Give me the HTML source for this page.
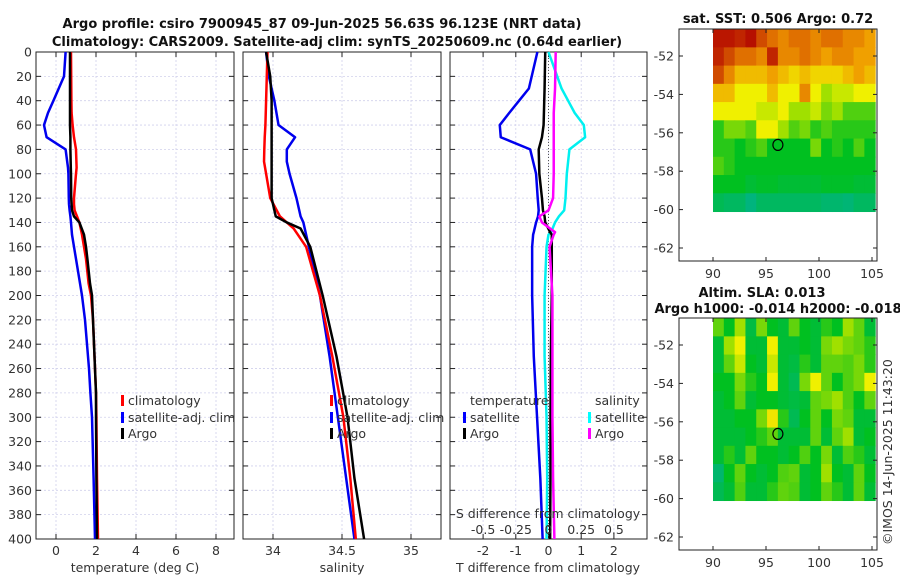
<!DOCTYPE html>
<html><head><meta charset="utf-8">
<style>
body{margin:0;background:#fff;}
svg{display:block;font-family:"DejaVu Sans","Liberation Sans",sans-serif;}
.t{font-size:12.5px;fill:#333;}
.b{font-weight:bold;fill:#111;font-size:13px;}
</style></head><body>
<svg id="fig" width="900" height="580" viewBox="0 0 900 580" xmlns="http://www.w3.org/2000/svg">
<text class="b" x="322" y="28" text-anchor="middle">Argo profile: csiro 7900945_87 09-Jun-2025 56.63S 96.123E (NRT data)</text>
<text class="b" x="337" y="46" text-anchor="middle">Climatology: CARS2009. Satellite-adj clim: synTS_20250609.nc (0.64d earlier)</text>
<text class="b" x="778" y="23" text-anchor="middle">sat. SST: 0.506 Argo: 0.72</text>
<text class="b" x="762" y="297" text-anchor="middle">Altim. SLA: 0.013</text>
<text class="b" x="778" y="313" text-anchor="middle">Argo h1000: -0.014 h2000: -0.018</text>
<text class="t" transform="translate(892,545) rotate(-90)">©IMOS 14-Jun-2025 11:43:20</text>
<g id="g"></g>
</svg>
<script>
// ---- data ----
const tDepth=[0,20,40,50,60,70,80,95,100,120,125,130,135,140,150,160,170,190,200,220,260,280,300,350,400];
const tClim=[0.75,0.76,0.77,0.78,0.83,0.9,1.0,1.03,1.0,0.9,0.9,0.93,1.05,1.17,1.3,1.4,1.5,1.63,1.75,1.85,1.95,2.0,2.02,2.05,2.1];
const tSat=[0.48,0.4,-0.13,-0.4,-0.6,-0.47,0.48,0.6,0.62,0.64,0.65,0.68,0.72,0.75,0.8,0.9,1.0,1.2,1.3,1.45,1.65,1.72,1.8,1.88,1.95];
const tArgo=[0.7,0.7,0.7,0.7,0.7,0.72,0.72,0.74,0.75,0.76,0.78,0.8,0.9,1.17,1.4,1.5,1.57,1.7,1.8,1.85,1.95,2.0,2.0,2.02,2.05];
const sDepth=[0,20,40,60,70,80,90,100,120,135,140,145,160,200,250,300,350,400];
const sClim=[33.96,33.955,33.95,33.945,33.94,33.937,33.935,33.95,33.98,34.05,34.1,34.15,34.24,34.34,34.43,34.51,34.56,34.6];
const sSat=[33.95,33.97,34.01,34.04,34.16,34.1,34.1,34.12,34.17,34.2,34.22,34.23,34.26,34.34,34.41,34.47,34.53,34.59];
const sArgo=[33.95,33.98,33.99,33.99,33.99,33.99,33.99,33.99,33.99,34.02,34.1,34.2,34.27,34.36,34.46,34.54,34.59,34.66];
const dDepth=[0,30,40,50,60,70,80,100,120,130,135,140,148,150,160,200,250,300,350,400];
const dTSat=[-0.34,-0.6,-0.9,-1.2,-1.49,-1.46,-0.56,-0.38,-0.33,-0.3,-0.32,-0.38,-0.45,-0.47,-0.5,-0.5,-0.45,-0.35,-0.25,-0.18];
const dTArgo=[-0.1,-0.12,-0.13,-0.14,-0.15,-0.2,-0.3,-0.28,-0.2,-0.17,-0.12,-0.1,0.05,0.1,0.1,0.1,0.07,0.06,0.06,0.05];
const dSSat=[0,0.1,0.15,0.2,0.27,0.28,0.16,0.14,0.13,0.12,0.08,0.05,0.02,0.0,-0.015,-0.03,-0.03,-0.015,-0.01,-0.015];
const dSArgo=[0.055,0.05,0.045,0.04,0.04,0.04,0.04,0.04,0.035,0.0,-0.07,-0.05,0.05,0.04,0.008,0.03,0.03,0.03,0.035,0.045];
const tTicks=[0,2,4,6,8], sTicks=[34,34.5,35], dTicks=[-2,-1,0,1,2], dSTicks=[-0.5,-0.25,0,0.25,0.5];
const depthTicks=[0,20,40,60,80,100,120,140,160,180,200,220,240,260,280,300,320,340,360,380,400];
const lonTicks=[90,95,100,105], latTicks=[-52,-54,-56,-58,-60,-62];
const sstGrid=[
[0.97,0.97,0.95,0.98,0.9,0.85,0.8,0.85,0.85,0.8,0.85,0.85,0.8,0.8,0.75],
[0.95,0.9,0.85,0.85,0.8,0.95,0.8,0.8,0.85,0.8,0.75,0.8,0.8,0.75,0.75],
[0.9,0.8,0.7,0.7,0.7,0.75,0.7,0.65,0.7,0.65,0.65,0.65,0.7,0.75,0.7],
[0.7,0.7,0.6,0.6,0.6,0.7,0.6,0.6,0.8,0.6,0.5,0.55,0.55,0.6,0.6],
[0.6,0.6,0.6,0.6,0.55,0.55,0.6,0.5,0.5,0.55,0.45,0.5,0.4,0.4,0.4],
[0.35,0.45,0.45,0.4,0.6,0.6,0.5,0.4,0.45,0.35,0.4,0.35,0.35,0.35,0.35],
[0.35,0.35,0.3,0.35,0.4,0.3,0.3,0.3,0.3,0.45,0.3,0.35,0.3,0.4,0.3],
[0.4,0.35,0.3,0.3,0.3,0.3,0.3,0.3,0.3,0.3,0.3,0.3,0.3,0.3,0.3],
[0.3,0.3,0.3,0.25,0.28,0.28,0.25,0.25,0.25,0.25,0.28,0.28,0.28,0.25,0.25],
[0.18,0.15,0.15,0.08,0.15,0.15,0.15,0.15,0.15,0.15,0.12,0.12,0.1,0.15,0.15]];
const slaGrid=[
[0.42,0.3,0.5,0.22,0.45,0.3,0.25,0.42,0.3,0.25,0.35,0.3,0.5,0.42,0.25],
[0.25,0.5,0.6,0.25,0.25,0.6,0.25,0.25,0.3,0.25,0.45,0.5,0.45,0.42,0.35],
[0.25,0.42,0.55,0.3,0.25,0.55,0.25,0.22,0.35,0.25,0.42,0.42,0.4,0.45,0.35],
[0.3,0.3,0.45,0.35,0.3,0.6,0.25,0.18,0.45,0.6,0.42,0.3,0.4,0.45,0.6],
[0.25,0.3,0.42,0.25,0.3,0.3,0.25,0.22,0.25,0.42,0.45,0.5,0.4,0.3,0.42],
[0.25,0.25,0.3,0.3,0.45,0.62,0.35,0.18,0.3,0.42,0.3,0.45,0.42,0.25,0.25],
[0.25,0.25,0.25,0.3,0.35,0.42,0.25,0.25,0.25,0.42,0.25,0.42,0.5,0.25,0.3],
[0.25,0.35,0.25,0.42,0.3,0.3,0.25,0.3,0.4,0.3,0.45,0.25,0.4,0.35,0.25],
[0.12,0.3,0.42,0.3,0.25,0.3,0.4,0.42,0.25,0.3,0.5,0.3,0.25,0.42,0.3],
[0.18,0.25,0.4,0.25,0.25,0.35,0.42,0.4,0.25,0.3,0.42,0.35,0.25,0.42,0.25]];
const floatLon=96.123, floatLat=-56.63;

// ---- drawing ----
const NS='http://www.w3.org/2000/svg', G=document.getElementById('g');
function mk(tag,attrs,parent){const e=document.createElementNS(NS,tag);for(const k in attrs)e.setAttribute(k,attrs[k]);(parent||G).appendChild(e);return e;}
const Y0=52,Y1=539;
const yD=d=>Y0+d/400*(Y1-Y0);
function lin(d0,d1,r0,r1){return v=>r0+(v-d0)/(d1-d0)*(r1-r0);}
const xT=lin(0,2,56,96), xS=lin(34,34.5,273,342), xD=lin(0,1,548.5,581.2), xDS=v=>xD(v*4);
const GRID='#d0d0ec';

function panel(x0,x1,name,xs,ticks,fmt,labelY){
  const g=mk('g',{});
  
  
  ticks.forEach(t=>{mk('line',{x1:xs(t),x2:xs(t),y1:Y0,y2:Y1,stroke:GRID,'stroke-width':0.8,'stroke-dasharray':'2,2'},g);
    mk('line',{x1:xs(t),x2:xs(t),y1:Y1,y2:Y1-5,stroke:'#222'},g);mk('line',{x1:xs(t),x2:xs(t),y1:Y0,y2:Y0+5,stroke:'#222'},g);
    const tx=mk('text',{x:xs(t),y:Y1+16,'text-anchor':'middle',class:'t'},g);tx.textContent=fmt(t);
    
    });
  depthTicks.forEach(d=>{mk('line',{x1:x0,x2:x1,y1:yD(d),y2:yD(d),stroke:GRID,'stroke-width':0.8,'stroke-dasharray':'2,2'},g);
    mk('line',{x1:x0,x2:x0+5,y1:yD(d),y2:yD(d),stroke:'#222'},g);mk('line',{x1:x1-5,x2:x1,y1:yD(d),y2:yD(d),stroke:'#222'},g);
    if(labelY){const tx=mk('text',{x:x0-4,y:yD(d)+4.5,'text-anchor':'end',class:'t'},g);tx.textContent=d;
      
      }});
  mk('rect',{x:x0,y:Y0,width:x1-x0,height:Y1-Y0,fill:'none',stroke:'#222','stroke-width':1},g);
  return g;
}
function series(xs,vals,depths,color,w,name){
  const p=mk('polyline',{points:vals.map((v,i)=>xs(v)+','+yD(depths[i])).join(' '),fill:'none',stroke:color,'stroke-width':w,'stroke-linejoin':'round'});
  
  
}
function txt(x,y,s,name,extra){const t=mk('text',Object.assign({x:x,y:y,class:'t'},extra||{}));t.textContent=s;
  
  return t;}
function legBar(x,y,c,name){const r=mk('rect',{x:x,y:y-10,width:3,height:11,fill:c});
  
  }

// panel 1
panel(36,234,'temperature-panel',xT,tTicks,t=>t,true);
series(xT,tSat,tDepth,'#0000ee',2.5,'temp-satellite-line');
series(xT,tClim,tDepth,'#ff0000',2.5,'temp-climatology-line');
series(xT,tArgo,tDepth,'#000',2.5,'temp-argo-line');
txt(135,572,'temperature (deg C)','x-axis-title-temperature',{'text-anchor':'middle'});
legBar(121,405,'#f00','legend-climatology-swatch');txt(128,405,'climatology','legend-climatology');
legBar(121,422,'#00f','legend-satellite-swatch');txt(128,422,'satellite-adj. clim','legend-satellite');
legBar(121,438,'#000','legend-argo-swatch');txt(128,438,'Argo','legend-argo');
// panel 2
panel(243,441,'salinity-panel',xS,sTicks,t=>t,false);
series(xS,sSat,sDepth,'#0000ee',2.5,'sal-satellite-line');
series(xS,sClim,sDepth,'#ff0000',2.5,'sal-climatology-line');
series(xS,sArgo,sDepth,'#000',2.5,'sal-argo-line');
txt(342,572,'salinity','x-axis-title-salinity',{'text-anchor':'middle'});
legBar(330,405,'#f00','legend2-climatology-swatch');txt(337,405,'climatology','legend2-climatology');
legBar(330,422,'#00f','legend2-satellite-swatch');txt(337,422,'satellite-adj. clim','legend2-satellite');
legBar(330,438,'#000','legend2-argo-swatch');txt(337,438,'Argo','legend2-argo');
// panel 3
panel(450,647,'difference-panel',xD,dTicks,t=>t,false);
mk('line',{x1:xD(0),x2:xD(0),y1:Y0,y2:Y1,stroke:'#555','stroke-width':1,'stroke-dasharray':'1,2'});
series(xD,dTSat,dDepth,'#0000ee',2.5,'tdiff-satellite-line');
series(xDS,dSSat,dDepth,'#00f0f0',2.5,'sdiff-satellite-line');
series(xD,dTArgo,dDepth,'#000',2.5,'tdiff-argo-line');
series(xDS,dSArgo,dDepth,'#ff00ff',2.5,'sdiff-argo-line');
txt(548,572,'T difference from climatology','x-axis-title-tdiff',{'text-anchor':'middle'});
txt(548,518,'S difference from climatology','s-axis-title',{'text-anchor':'middle'});
dSTicks.forEach(v=>txt(xDS(v),534,v,'s-tick-label',{'text-anchor':'middle'}));
txt(470,405,'temperature','legend3-temperature-heading');
legBar(463,422,'#00f','legend3-tsat-swatch');txt(470,422,'satellite','legend3-tsat');
legBar(463,438,'#000','legend3-targo-swatch');txt(470,438,'Argo','legend3-targo');
txt(595,405,'salinity','legend3-salinity-heading');
legBar(588,422,'#0ff','legend3-ssat-swatch');txt(595,422,'satellite','legend3-ssat');
legBar(588,438,'#f0f','legend3-sargo-swatch');txt(595,438,'Argo','legend3-sargo');

// maps
const stops=[[0,[0,176,160]],[0.3,[0,192,32]],[0.5,[160,224,0]],[0.6,[240,240,0]],[0.75,[240,160,0]],[0.85,[224,112,0]],[1,[176,0,0]]];
function cmap(v){for(let i=1;i<stops.length;i++){if(v<=stops[i][0]){const a=stops[i-1],b=stops[i],f=(v-a[0])/(b[0]-a[0]);
  return 'rgb('+a[1].map((c,k)=>Math.round(c+f*(b[1][k]-c))).join(',')+')';}}return 'rgb(176,0,0)';}
function map(top,grid,name){
  const x0=679,x1=877,y1=top+232;
  const xL=lin(90,95,713,766), yL=lin(-52,-54,top+27,top+65.4);
  const g=mk('g',{});
  
  
  const lat0=-50.6,lat1=-60.1,lon0=90,lon1=105.3;
  const nr=grid.length,nc=grid[0].length,dlat=(lat0-lat1)/nr,dlon=(lon1-lon0)/nc;
  grid.forEach((row,r)=>row.forEach((v,c)=>{
    const cell=mk('rect',{x:xL(lon0+c*dlon),y:yL(lat0-r*dlat),width:xL(lon0+(c+1)*dlon)-xL(lon0+c*dlon)+0.5,height:yL(lat0-(r+1)*dlat)-yL(lat0-r*dlat)+0.5,fill:cmap(v)},g);
    
    }));
  mk('rect',{x:x0,y:top,width:x1-x0,height:y1-top,fill:'none',stroke:'#222'},g);
  lonTicks.forEach(l=>{mk('line',{x1:xL(l),x2:xL(l),y1:y1,y2:y1-4,stroke:'#222'},g);mk('line',{x1:xL(l),x2:xL(l),y1:top,y2:top+4,stroke:'#222'},g);
    const t=mk('text',{x:xL(l),y:y1+17,'text-anchor':'middle',class:'t'},g);t.textContent=l;
    
    });
  latTicks.forEach(l=>{mk('line',{x1:x0,x2:x0+4,y1:yL(l),y2:yL(l),stroke:'#222'},g);mk('line',{x1:x1-4,x2:x1,y1:yL(l),y2:yL(l),stroke:'#222'},g);
    const t=mk('text',{x:x0-5,y:yL(l)+4.5,'text-anchor':'end',class:'t'},g);t.textContent=l;
    
    });
  const m=mk('ellipse',{cx:xL(floatLon),cy:yL(floatLat),rx:5,ry:5.5,fill:'none',stroke:'#000','stroke-width':1.2},g);
  
  
}
map(29,sstGrid,'sst-map');
map(318,slaGrid,'sla-map');
</script>
</body></html>
